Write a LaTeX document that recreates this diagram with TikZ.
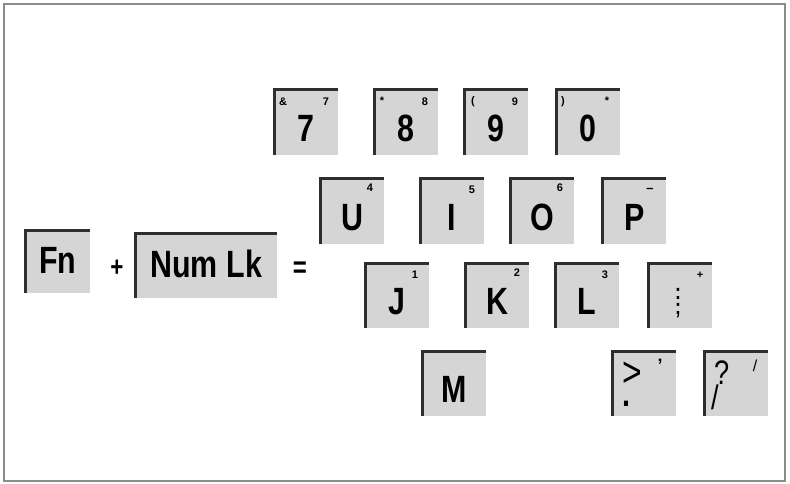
\documentclass[tikz,border=0pt]{standalone}
\usepackage{fontspec}
\setmainfont{Liberation Sans}
\newfontfamily\keyfont[FakeStretch=0.8]{Liberation Sans}
\usetikzlibrary{positioning}

\definecolor{keygray}{HTML}{D5D5D5}
\definecolor{edgegray}{HTML}{2E2E2E}
\definecolor{framegray}{HTML}{8C8C8C}

\begin{document}
\begin{tikzpicture}[
    x=1pt, y=-1pt,
    keycap/.style={fill=keygray, anchor=north west, inner sep=0pt,
        minimum width=64pt, minimum height=65pt,
        text height=38pt, text depth=0pt,
        font=\keyfont\bfseries\fontsize{38}{38}\selectfont},
    widekey/.style={keycap, text height=24pt},
    keyedge/.style={draw=edgegray, line width=3pt},
    legend/.style={inner sep=0pt, font=\bfseries\fontsize{11}{11}\selectfont},
    sign/.style={inner sep=0pt, font=\keyfont\bfseries\fontsize{30}{30}\selectfont},
    stack/.style={inner sep=0pt, anchor=west, align=left}
]
    \useasboundingbox (0,0) rectangle (790,484);
    \draw[framegray, line width=2pt] (4,4) rectangle (785,481);

    % Fn + Num Lk =
    \node[widekey, minimum width=65pt, minimum height=63pt] (fn) at (25,230) {Fn};
    \node[sign, font=\keyfont\bfseries\fontsize{28}{28}\selectfont] (plus) at (117,268) {+};
    \node[widekey, minimum width=142pt] (numlk) at (135,233) {Num Lk};
    \node[sign] (equals) at (300,270) {=};

    % top row
    \node[keycap] (k7) at (274,90) {7};
    \node[keycap] (k8) at (374,90) {8};
    \node[keycap] (k9) at (464,90) {9};
    \node[keycap] (k0) at (556,90) {0};

    % second row
    \node[keycap] (kU) at (320,179) {U};
    \node[keycap] (kI) at (420,179) {I};
    \node[keycap] (kO) at (510,179) {O};
    \node[keycap] (kP) at (602,179) {P};

    % third row
    \node[keycap] (kJ) at (365,263) {J};
    \node[keycap] (kK) at (465,263) {K};
    \node[keycap] (kL) at (555,263) {L};
    \node[keycap] (kSemi) at (648,263) {};

    % bottom row
    \node[keycap] (kM) at (422,351) {M};
    \node[keycap] (kDot) at (612,351) {};
    \node[keycap] (kSlash) at (704,351) {};

    \foreach \k in {fn,numlk,k7,k8,k9,k0,kU,kI,kO,kP,kJ,kK,kL,kSemi,kM,kDot,kSlash}
        \draw[keyedge] (\k.south west) |- (\k.north east);

    % small legends
    \node[legend] (k7a) at ([shift={(9,12)}]k7.north west) {\&};
    \node[legend] (k7b) at ([shift={(52,12)}]k7.north west) {7};
    \node[legend] (k8a) at ([shift={(8,11)}]k8.north west) {*};
    \node[legend] (k8b) at ([shift={(51,12)}]k8.north west) {8};
    \node[legend] (k9a) at ([shift={(9,12)}]k9.north west) {(};
    \node[legend] (k9b) at ([shift={(51,12)}]k9.north west) {9};
    \node[legend] (k0a) at ([shift={(7,12)}]k0.north west) {)};
    \node[legend] (k0b) at ([shift={(51,11)}]k0.north west) {*};

    \node[legend] (kUb) at ([shift={(50,9)}]kU.north west) {4};
    \node[legend] (kIb) at ([shift={(52,11)}]kI.north west) {5};
    \node[legend] (kOb) at ([shift={(50,9)}]kO.north west) {6};
    \node[legend, font=\bfseries\fontsize{13}{13}\selectfont] (kPb) at ([shift={(48,11)}]kP.north west) {--};

    \node[legend] (kJb) at ([shift={(50,12)}]kJ.north west) {1};
    \node[legend] (kKb) at ([shift={(52,10)}]kK.north west) {2};
    \node[legend] (kLb) at ([shift={(50,12)}]kL.north west) {3};
    \node[legend] (kSemib) at ([shift={(52,12)}]kSemi.north west) {+};
    \node[stack, anchor=center, align=center, font=\keyfont\bfseries\fontsize{22}{15}\selectfont] (kSemim) at ([shift={(30,40)}]kSemi.north west) {:\\;};

    \node[stack, font=\keyfont\fontsize{42}{20}\selectfont] (kDotm) at ([shift={(10,33)}]kDot.north west) {>\\\bfseries\fontsize{36}{20}\selectfont .};
    \node[legend, font=\bfseries\fontsize{18}{18}\selectfont] (kDotb) at ([shift={(48,14)}]kDot.north west) {’};
    \node[stack, font=\keyfont\fontsize{34}{25}\selectfont] (kSlashm) at ([shift={(7,34)}]kSlash.north west) {\hspace{3pt}?\\/};
    \node[legend, font=\fontsize{16}{16}\selectfont] (kSlashb) at ([shift={(51,15)}]kSlash.north west) {/};
\end{tikzpicture}
\end{document}
